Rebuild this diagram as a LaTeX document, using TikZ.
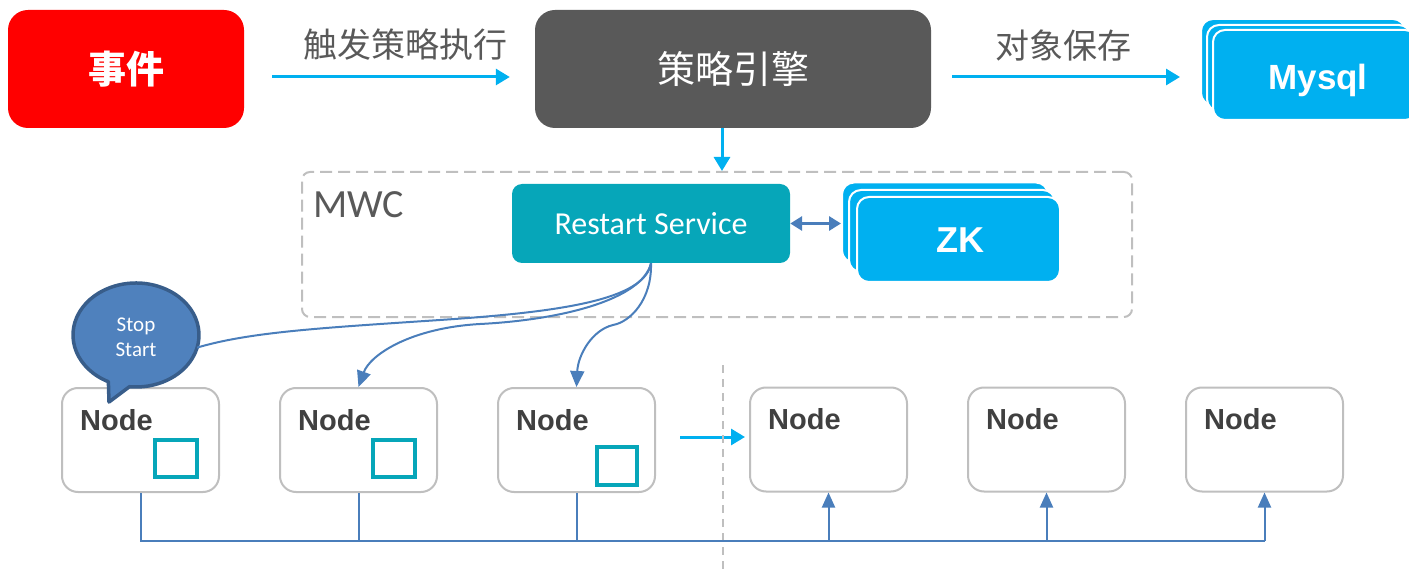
\documentclass[tikz,border=0pt]{standalone}
\usepackage{fontspec}
\setmainfont{Liberation Sans}
\newfontfamily\cjk{Noto Sans CJK SC}
\newfontfamily\cali{Carlito}
\usetikzlibrary{arrows.meta}
\definecolor{evred}{HTML}{FF0000}
\definecolor{dgray}{HTML}{595959}
\definecolor{cyanb}{HTML}{00B0F0}
\definecolor{tealb}{HTML}{06A6B9}
\definecolor{lblue}{HTML}{4A7EBB}
\definecolor{bubfill}{HTML}{4F81BD}
\definecolor{bubedge}{HTML}{385D8A}
\definecolor{ngray}{HTML}{BFBFBF}
\definecolor{ntext}{HTML}{404040}
\begin{document}
\begin{tikzpicture}[x=1pt,y=1pt,
  topbox/.style={rounded corners=20, minimum width=236, minimum height=118, inner sep=0, text=white},
  stackbox/.style={rounded corners=12, fill=cyanb, draw=white, line width=2, inner sep=0},
  cyanarrow/.style={draw=cyanb, line width=3, -{Triangle[length=14,width=16]}},
  lbl/.style={text=dgray, font=\cjk\fontsize{34}{40}\selectfont},
  nodebox/.style={draw=ngray, line width=2, fill=white, rounded corners=16, minimum width=157, minimum height=104, inner sep=0},
  nodetxt/.style={anchor=west, text=ntext, font=\bfseries\fontsize{29}{34}\selectfont, inner sep=0},
  sq/.style={draw=tealb, line width=3.5, minimum width=42, minimum height=37, inner sep=0},
  bus/.style={draw=lblue, line width=2},
  busarrow/.style={bus, -{Triangle[length=15,width=13]}},
  curve/.style={draw=lblue, line width=2},
  curvearrow/.style={curve, -{Triangle[length=16,width=14]}}
]
\useasboundingbox (0,0) rectangle (1409,-572);
\clip (0,0) rectangle (1409,-572);

% top row
\node (ev) [topbox, fill=evred, font=\cjk\bfseries\fontsize{38}{44}\selectfont] at (126,-69) {事件};
\node (eng) [topbox, fill=dgray, minimum width=396, font=\cjk\fontsize{38}{44}\selectfont] at (733,-69) {策略引擎};
\node (mysqlc) [stackbox, minimum width=204, minimum height=86] at (1303,-62) {};
\node (mysqlb) [stackbox, minimum width=204, minimum height=86] at (1309,-68) {};
\node (mysql) [stackbox, minimum width=204, minimum height=90] at (1315,-75) {};
\node (mysqlt) [text=white, font=\bfseries\fontsize{35}{40}\selectfont, inner sep=0] at (1318,-80) {Mysql};

\coordinate (a1s) at (272,-77);
\draw[cyanarrow] (a1s) -- ([xshift=-25]eng.west |- a1s) coordinate (a1e);
\node (l1) [lbl] at (405,-45) {触发策略执行};
\coordinate (a2s) at (952,-77);
\draw[cyanarrow] (a2s) -- ([xshift=-20]mysqlc.west |- a2s) coordinate (a2e);
\node (l2) [lbl] at (1063,-46) {对象保存};

% MWC
\node (mwc) [draw=ngray, line width=2, dash pattern=on 12pt off 6pt, rounded corners=8, minimum width=830, minimum height=145, inner sep=0] at (717,-244.5) {};
\node (mwct) [anchor=west, text=dgray, font=\cali\fontsize{40}{46}\selectfont, inner sep=0] at (313,-205) {MWC};
\draw[cyanarrow] ([xshift=-11]eng.south) -- ([xshift=-11]eng.south |- mwc.north);

\node (rs) [rounded corners=10, fill=tealb, minimum width=278, minimum height=79, inner sep=0, text=white, font=\cali\fontsize{32}{38}\selectfont] at (651,-223.5) {Restart Service};

\node (zkc) [stackbox, minimum width=206, minimum height=80] at (945,-222.5) {};
\node (zkb) [stackbox, minimum width=206, minimum height=82] at (952,-231) {};
\node (zk) [stackbox, minimum width=203, minimum height=85] at (958.5,-239.5) {};
\node (zkt) [text=white, font=\bfseries\fontsize{36}{40}\selectfont, inner sep=0] at (960,-240) {ZK};
\draw[draw=lblue, line width=3, {Triangle[length=12,width=14]}-{Triangle[length=12,width=14]}] (rs.east) -- (zkc.west |- rs.east);

% nodes
\node (n1) [nodebox] at (140.5,-440) {};
\node (n2) [nodebox] at (358.5,-440) {};
\node (n3) [nodebox] at (576.5,-440) {};
\node (n4) [nodebox] at (828.5,-439.5) {};
\node (n5) [nodebox] at (1046.5,-439.5) {};
\node (n6) [nodebox] at (1264.5,-439.5) {};
\foreach \n in {1,...,6}{
  \node (t\n) [nodetxt] at ([xshift=19,yshift=-33]n\n.north west) {Node};
}
\node (s1) [sq] at (176,-458.5) {};
\node (s2) [sq] at (394,-458.5) {};
\node (s3) [sq, minimum width=40, minimum height=38] at (617,-466) {};

\draw[cyanarrow] (680,-437) coordinate (a3s) -- ([xshift=-4]n4.west |- a3s);
\draw[ngray, line width=1.5, dash pattern=on 8pt off 6pt] (723,-365) coordinate (dv1) -- (723,-572) coordinate (dv2);

% bus
\coordinate (busL) at (140.5,-541);
\coordinate (busR) at (1264.5,-541);
\draw[bus] (n1.south) -- (busL) -- (busR);
\draw[bus] (n2.south) -- (n2.south |- busL);
\draw[bus] (n3.south) -- (n3.south |- busL);
\draw[busarrow] (n4.south |- busL) -- (n4.south);
\draw[busarrow] (n5.south |- busL) -- (n5.south);
\draw[busarrow] (n6.south |- busL) -- (n6.south);

% bubble
\coordinate (bc) at (136,-335);
\coordinate (btip) at (109,-402);
\draw[fill=bubfill, draw=bubedge, line width=3.5, line join=round]
  ([shift={(264:63 and 52)}]bc) -- (btip) -- ([shift={(244:63 and 52)}]bc)
  arc[start angle=244, end angle=-96, x radius=63, y radius=52] -- cycle;
\node (bub) [text=white, font=\cali\fontsize{21}{25}\selectfont, align=center, inner sep=0] at (136,-337) {Stop\\Start};
\coordinate (bubE) at ([shift={(-14:63 and 52)}]bc);

% curves
\draw[curve] (rs.south) .. controls (645,-300) and (560,-312) .. (440,-320) .. controls (320,-328) and (250,-332) .. (bubE);
\draw[curvearrow] (rs.south) .. controls (642,-300) and (560,-320) .. (480,-324) .. controls (410,-328) and (370,-355) .. (n2.north);
\draw[curvearrow] (rs.south) .. controls (652,-300) and (630,-322) .. (613,-325) .. controls (592,-330) and (578,-355) .. (n3.north);
\end{tikzpicture}
\end{document}
